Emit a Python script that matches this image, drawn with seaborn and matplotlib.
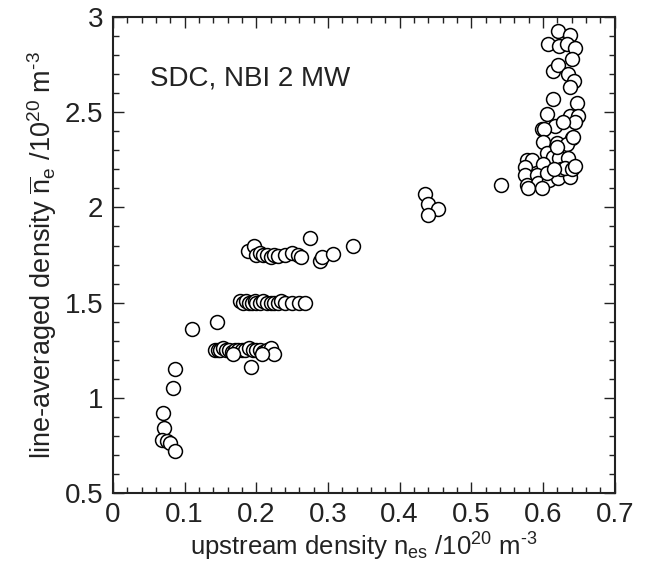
import numpy as np
import pandas as pd
import matplotlib
matplotlib.use("Agg")
import matplotlib.pyplot as plt
from matplotlib.ticker import MultipleLocator, FuncFormatter
import seaborn as sns

# low density shots
low_x = [0.070, 0.072, 0.068, 0.076, 0.080, 0.087, 0.084, 0.087, 0.111, 0.145, 0.193]
low_y = [0.92, 0.84, 0.78, 0.77, 0.76, 0.72, 1.05, 1.15, 1.36, 1.40, 1.16]

# ne = 1.25 step
s125_x = [0.142, 0.146, 0.150, 0.154, 0.158, 0.162, 0.166, 0.170, 0.175, 0.180,
          0.185, 0.190, 0.195, 0.200, 0.205, 0.210, 0.215, 0.220, 0.225, 0.168, 0.208]
s125_y = [1.25, 1.25, 1.25, 1.26, 1.25, 1.25, 1.24, 1.25, 1.25, 1.25,
          1.25, 1.26, 1.25, 1.25, 1.25, 1.24, 1.25, 1.26, 1.23, 1.23, 1.23]

# ne = 1.5 step
s150_x = [0.178, 0.182, 0.186, 0.190, 0.194, 0.198, 0.200, 0.205, 0.210, 0.215,
          0.220, 0.225, 0.230, 0.235, 0.240, 0.250, 0.260, 0.268]
s150_y = [1.51, 1.50, 1.51, 1.50, 1.50, 1.51, 1.50, 1.50, 1.51, 1.50,
          1.50, 1.50, 1.50, 1.51, 1.50, 1.50, 1.50, 1.50]

# ne = 1.75 step
s175_x = [0.188, 0.197, 0.200, 0.205, 0.210, 0.215, 0.220, 0.225, 0.230, 0.240,
          0.250, 0.258, 0.262, 0.275, 0.289, 0.292, 0.307, 0.335]
s175_y = [1.77, 1.80, 1.75, 1.76, 1.75, 1.75, 1.74, 1.75, 1.745, 1.75,
          1.76, 1.75, 1.74, 1.84, 1.72, 1.74, 1.755, 1.80]

# ne ~ 2 points
s200_x = [0.436, 0.440, 0.454, 0.440, 0.541]
s200_y = [2.07, 2.02, 1.99, 1.96, 2.12]

# high density cluster
high_x = [0.621, 0.637, 0.607, 0.623, 0.633, 0.644, 0.640, 0.614, 0.621, 0.635,
          0.643, 0.638, 0.614, 0.648, 0.605, 0.617, 0.637, 0.649, 0.644, 0.598,
          0.602, 0.628, 0.600, 0.619, 0.640, 0.633, 0.605, 0.614, 0.577, 0.584,
          0.575, 0.600, 0.623, 0.635, 0.575, 0.591, 0.607, 0.616, 0.626, 0.633,
          0.577, 0.593, 0.609, 0.621, 0.637, 0.579, 0.598, 0.605, 0.642, 0.619,
          0.625, 0.630, 0.615, 0.640, 0.645]
high_y = [2.93, 2.905, 2.86, 2.85, 2.86, 2.84, 2.78, 2.72, 2.75, 2.70,
          2.665, 2.635, 2.57, 2.55, 2.49, 2.43, 2.48, 2.48, 2.45, 2.415,
          2.415, 2.45, 2.345, 2.34, 2.365, 2.335, 2.285, 2.265, 2.25, 2.25,
          2.215, 2.23, 2.26, 2.26, 2.17, 2.17, 2.18, 2.19, 2.19, 2.18,
          2.12, 2.13, 2.145, 2.155, 2.16, 2.10, 2.10, 2.18, 2.37, 2.32,
          2.20, 2.21, 2.20, 2.20, 2.22]

df = pd.DataFrame({
    "nes": low_x + s125_x + s150_x + s175_x + s200_x + high_x,
    "ne": low_y + s125_y + s150_y + s175_y + s200_y + high_y,
})

sns.set_theme(style="ticks")
plt.rcParams["font.family"] = ["Liberation Sans", "DejaVu Sans"]
plt.rcParams["mathtext.fontset"] = "custom"
plt.rcParams["mathtext.rm"] = "Liberation Sans"
plt.rcParams["mathtext.it"] = "Liberation Sans:italic"

fig = plt.figure(figsize=(6.45, 5.75), dpi=100)
ax = fig.add_axes([0.175, 0.143, 0.778, 0.827])

sns.scatterplot(data=df, x="nes", y="ne", ax=ax, s=100, marker="o",
                facecolor="white", edgecolor="black", linewidth=1.1, zorder=3)

ax.set_xlim(0, 0.7)
ax.set_ylim(0.5, 3)
ax.xaxis.set_major_locator(MultipleLocator(0.1))
ax.xaxis.set_minor_locator(MultipleLocator(0.02))
ax.yaxis.set_major_locator(MultipleLocator(0.5))
ax.yaxis.set_minor_locator(MultipleLocator(0.1))
fmt = FuncFormatter(lambda v, p: "%g" % round(v, 2))
ax.xaxis.set_major_formatter(fmt)
ax.yaxis.set_major_formatter(fmt)

ax.tick_params(which="both", direction="in", top=True, right=True,
               width=1.0, colors="#222222", labelsize=20)
ax.tick_params(which="major", length=8, pad=7)
ax.tick_params(which="minor", length=4)
for sp in ax.spines.values():
    sp.set_linewidth(1.5)
    sp.set_color("#222222")

ax.set_xlabel(r"upstream density n$_{\mathrm{es}}$ /10$^{20}$ m$^{\text{-3}}$",
              fontsize=18.5, color="#222222", labelpad=2)
ax.set_ylabel(r"line-averaged density $\overline{\mathrm{n}}_{\mathrm{e}}$ /10$^{20}$ m$^{\text{-3}}$",
              fontsize=19.5, color="#222222", labelpad=4)

ax.text(0.052, 2.68, "SDC, NBI 2 MW", fontsize=20, color="#222222", va="center")

fig.savefig("out.png", dpi=100)
